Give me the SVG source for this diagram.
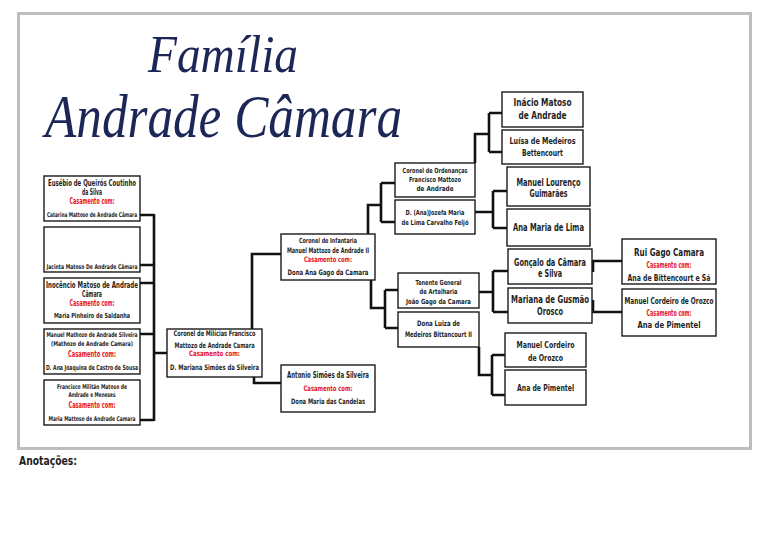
<svg xmlns="http://www.w3.org/2000/svg" width="768" height="543" viewBox="0 0 768 543">
<style>
.bx{fill:#fff;stroke:#1a1a1a;stroke-width:1.4}
.t{font-family:"DejaVu Sans Condensed","DejaVu Sans",sans-serif;font-weight:bold;fill:#1e1e1e;text-anchor:middle}
.r{font-family:"DejaVu Sans Condensed","DejaVu Sans",sans-serif;font-weight:bold;fill:#e8101e;text-anchor:middle}
.ttl{font-family:"Liberation Serif","DejaVu Serif",serif;font-style:italic;fill:#1c2757}
.cn{fill:none;stroke:#111;stroke-width:2.6;stroke-linejoin:miter}
</style>
<rect x="0" y="0" width="768" height="543" fill="#fff"/>
<rect x="18.5" y="13.5" width="732" height="435" fill="#fff" stroke="#bdbdbd" stroke-width="3"/>
<g id="title">
<text class="ttl" x="148" y="72" font-size="52" textLength="150" lengthAdjust="spacingAndGlyphs">Família</text>
<text class="ttl" x="45" y="137" font-size="62" textLength="357" lengthAdjust="spacingAndGlyphs">Andrade Câmara</text>
</g>
<text class="t" x="19" y="465" font-size="13" textLength="58" lengthAdjust="spacingAndGlyphs" style="text-anchor:start">Anotações:</text>
<g id="connectors">
<path class="cn" d="M140,215H154M140,265H154M140,283H154M140,334H154M140,420H154M154,214V421M154,353H167"/>
<path class="cn" d="M252,329V254H281"/>
<path class="cn" d="M254,377V383H281"/>
<path class="cn" d="M368,234V205H381M381,183V222M381,183H395M381,222H395"/>
<path class="cn" d="M371,280V308H385M385,290V328M385,290H398M385,328H398"/>
<path class="cn" d="M475,163V134H489M489,113V152M489,113H502M489,152H502"/>
<path class="cn" d="M475,212H493M493,191V228M493,191H507M493,228H507"/>
<path class="cn" d="M479,292H493M493,271V312M493,271H508M493,312H508"/>
<path class="cn" d="M479,347V375H492M492,355V395M492,355H505M492,395H505"/>
<path class="cn" d="M593,272V261H622"/>
<path class="cn" d="M593,300V312H622"/>
</g>
<g id="n-eusebio">
<rect class="bx" x="44" y="176" width="96" height="45"/>
<text class="t" x="92" y="186" font-size="8" textLength="88" lengthAdjust="spacingAndGlyphs">Eusébio de Queirós Coutinho</text>
<text class="t" x="92" y="195" font-size="8" textLength="20" lengthAdjust="spacingAndGlyphs">da Silva</text>
<text class="r" x="92" y="204" font-size="8" textLength="45" lengthAdjust="spacingAndGlyphs">Casamento com:</text>
<text class="t" x="92" y="216.5" font-size="6.5" textLength="90" lengthAdjust="spacingAndGlyphs">Catarina Mattoso de Andrade Câmara</text>
</g>
<g id="n-jacinta">
<rect class="bx" x="44" y="227" width="96" height="45"/>
<text class="t" x="92" y="268.5" font-size="6.5" textLength="91" lengthAdjust="spacingAndGlyphs">Jacinta Matoso De Andrade Câmara</text>
</g>
<g id="n-inocencio">
<rect class="bx" x="44" y="278" width="96" height="45"/>
<text class="t" x="92" y="288" font-size="8.5" textLength="92" lengthAdjust="spacingAndGlyphs">Inocêncio Matoso de Andrade</text>
<text class="t" x="92" y="297" font-size="8.5" textLength="20" lengthAdjust="spacingAndGlyphs">Câmara</text>
<text class="r" x="92" y="306" font-size="8" textLength="45" lengthAdjust="spacingAndGlyphs">Casamento com:</text>
<text class="t" x="92" y="317.5" font-size="7" textLength="76" lengthAdjust="spacingAndGlyphs">Maria Pinheiro de Saldanha</text>
</g>
<g id="n-manuel-mathozo">
<rect class="bx" x="44" y="329" width="96" height="45"/>
<text class="t" x="92" y="336.5" font-size="6.5" textLength="91" lengthAdjust="spacingAndGlyphs">Manuel Mathozo de Andrade Silveira</text>
<text class="t" x="92" y="345.5" font-size="6.5" textLength="82" lengthAdjust="spacingAndGlyphs">(Mathozo de Andrade Camara)</text>
<text class="r" x="92" y="356.5" font-size="8" textLength="48" lengthAdjust="spacingAndGlyphs">Casamento com:</text>
<text class="t" x="92" y="369.5" font-size="7" textLength="92" lengthAdjust="spacingAndGlyphs">D. Ana Joaquina de Castro de Sousa</text>
</g>
<g id="n-francisco-militao">
<rect class="bx" x="44" y="380" width="96" height="45"/>
<text class="t" x="92" y="388.5" font-size="6.5" textLength="70" lengthAdjust="spacingAndGlyphs">Francisco Militão Matoso de</text>
<text class="t" x="92" y="396.5" font-size="6.5" textLength="47" lengthAdjust="spacingAndGlyphs">Andrade e Meneses</text>
<text class="r" x="92" y="408" font-size="8" textLength="47" lengthAdjust="spacingAndGlyphs">Casamento com:</text>
<text class="t" x="92" y="420.5" font-size="6.5" textLength="87" lengthAdjust="spacingAndGlyphs">Maria Mattoso de Andrade Camara</text>
</g>
<g id="n-milicias">
<rect class="bx" x="167" y="329" width="95" height="48"/>
<text class="t" x="214.5" y="336" font-size="7.5" textLength="82" lengthAdjust="spacingAndGlyphs">Coronel de Milícias Francisco</text>
<text class="t" x="214.5" y="347.5" font-size="7.5" textLength="80" lengthAdjust="spacingAndGlyphs">Mattozo de Andrade Camara</text>
<text class="r" x="214.5" y="356" font-size="7.5" textLength="51" lengthAdjust="spacingAndGlyphs">Casamento com:</text>
<text class="t" x="214.5" y="369.5" font-size="7.5" textLength="89" lengthAdjust="spacingAndGlyphs">D. Mariana Simões da Silveira</text>
</g>
<g id="n-infantaria">
<rect class="bx" x="281" y="234" width="94" height="46"/>
<text class="t" x="328" y="242.5" font-size="7" textLength="58" lengthAdjust="spacingAndGlyphs">Coronel de Infantaria</text>
<text class="t" x="328" y="253" font-size="7.5" textLength="82" lengthAdjust="spacingAndGlyphs">Manuel Mattozo de Andrade II</text>
<text class="r" x="328" y="262" font-size="7.5" textLength="48" lengthAdjust="spacingAndGlyphs">Casamento com:</text>
<text class="t" x="328" y="275" font-size="7.5" textLength="81" lengthAdjust="spacingAndGlyphs">Dona Ana Gago da Camara</text>
</g>
<g id="n-antonio">
<rect class="bx" x="281" y="365" width="94" height="47"/>
<text class="t" x="328" y="378" font-size="8" textLength="82" lengthAdjust="spacingAndGlyphs">Antonio Simões da Silveira</text>
<text class="r" x="328" y="391" font-size="7.5" textLength="49" lengthAdjust="spacingAndGlyphs">Casamento com:</text>
<text class="t" x="328" y="404" font-size="7.5" textLength="74" lengthAdjust="spacingAndGlyphs">Dona Maria das Candelas</text>
</g>
<g id="n-ordenancas">
<rect class="bx" x="395" y="163" width="80" height="34"/>
<text class="t" x="435" y="172.5" font-size="7" textLength="65" lengthAdjust="spacingAndGlyphs">Coronel de Ordenanças</text>
<text class="t" x="435" y="181.5" font-size="7" textLength="52" lengthAdjust="spacingAndGlyphs">Francisco Mattozo</text>
<text class="t" x="435" y="190.5" font-size="7" textLength="37" lengthAdjust="spacingAndGlyphs">de Andrade</text>
</g>
<g id="n-jozefa">
<rect class="bx" x="395" y="200" width="80" height="34"/>
<text class="t" x="435" y="214.5" font-size="7" textLength="59" lengthAdjust="spacingAndGlyphs">D. (Ana)Jozefa Maria</text>
<text class="t" x="435" y="224.5" font-size="7" textLength="67" lengthAdjust="spacingAndGlyphs">de Lima Carvalho Feljó</text>
</g>
<g id="n-inacio">
<rect class="bx" x="502" y="92" width="81" height="35"/>
<text class="t" x="542.5" y="105.5" font-size="10.5" textLength="58" lengthAdjust="spacingAndGlyphs">Inácio Matoso</text>
<text class="t" x="542.5" y="118.5" font-size="10.5" textLength="48" lengthAdjust="spacingAndGlyphs">de Andrade</text>
</g>
<g id="n-luisa">
<rect class="bx" x="502" y="130" width="81" height="34"/>
<text class="t" x="542.5" y="144" font-size="9" textLength="66" lengthAdjust="spacingAndGlyphs">Luísa de Medeiros</text>
<text class="t" x="542.5" y="156" font-size="9" textLength="41" lengthAdjust="spacingAndGlyphs">Bettencourt</text>
</g>
<g id="n-lourenco">
<rect class="bx" x="507" y="167" width="83" height="39"/>
<text class="t" x="548.5" y="185.5" font-size="10.5" textLength="64" lengthAdjust="spacingAndGlyphs">Manuel Lourenço</text>
<text class="t" x="548.5" y="196.5" font-size="10.5" textLength="38" lengthAdjust="spacingAndGlyphs">Guimarães</text>
</g>
<g id="n-anamaria">
<rect class="bx" x="507" y="209" width="83" height="37"/>
<text class="t" x="548.5" y="230.5" font-size="10.5" textLength="71" lengthAdjust="spacingAndGlyphs">Ana Maria de Lima</text>
</g>
<g id="n-tenente">
<rect class="bx" x="398" y="273" width="81" height="35"/>
<text class="t" x="438.5" y="284.5" font-size="7" textLength="46" lengthAdjust="spacingAndGlyphs">Tenente General</text>
<text class="t" x="438.5" y="293.5" font-size="7" textLength="38" lengthAdjust="spacingAndGlyphs">de Artelharia</text>
<text class="t" x="438.5" y="303.5" font-size="7" textLength="65" lengthAdjust="spacingAndGlyphs">João Gago da Camara</text>
</g>
<g id="n-luiza">
<rect class="bx" x="398" y="312" width="81" height="35"/>
<text class="t" x="438.5" y="325.5" font-size="7.5" textLength="43" lengthAdjust="spacingAndGlyphs">Dona Luiza de</text>
<text class="t" x="438.5" y="336.5" font-size="7.5" textLength="67" lengthAdjust="spacingAndGlyphs">Medeiros Bittancourt II</text>
</g>
<g id="n-goncalo">
<rect class="bx" x="508" y="249" width="84" height="35"/>
<text class="t" x="550" y="265.5" font-size="10.5" textLength="72" lengthAdjust="spacingAndGlyphs">Gonçalo da Câmara</text>
<text class="t" x="550" y="276.5" font-size="10.5" textLength="24" lengthAdjust="spacingAndGlyphs">e Silva</text>
</g>
<g id="n-mariana">
<rect class="bx" x="508" y="288" width="84" height="35"/>
<text class="t" x="550" y="302.5" font-size="10.5" textLength="78" lengthAdjust="spacingAndGlyphs">Mariana de Gusmão</text>
<text class="t" x="550" y="314.5" font-size="10.5" textLength="26" lengthAdjust="spacingAndGlyphs">Orosco</text>
</g>
<g id="n-cordeiro">
<rect class="bx" x="505" y="333" width="81" height="34"/>
<text class="t" x="545.5" y="347.5" font-size="9.5" textLength="58" lengthAdjust="spacingAndGlyphs">Manuel Cordeiro</text>
<text class="t" x="545.5" y="360.5" font-size="9.5" textLength="35" lengthAdjust="spacingAndGlyphs">de Orozco</text>
</g>
<g id="n-pimentel">
<rect class="bx" x="505" y="370" width="81" height="35"/>
<text class="t" x="545.5" y="390.5" font-size="9.5" textLength="57" lengthAdjust="spacingAndGlyphs">Ana de Pimentel</text>
</g>
<g id="n-rui">
<rect class="bx" x="622" y="239" width="94" height="45"/>
<text class="t" x="669" y="256" font-size="11" textLength="70" lengthAdjust="spacingAndGlyphs">Rui Gago Camara</text>
<text class="r" x="669" y="268" font-size="8" textLength="45" lengthAdjust="spacingAndGlyphs">Casamento com:</text>
<text class="t" x="669" y="280.5" font-size="8.5" textLength="83" lengthAdjust="spacingAndGlyphs">Ana de Bittencourt e Sá</text>
</g>
<g id="n-orozco">
<rect class="bx" x="622" y="289" width="94" height="47"/>
<text class="t" x="669" y="304" font-size="8" textLength="89" lengthAdjust="spacingAndGlyphs">Manuel Cordeiro de Orozco</text>
<text class="r" x="669" y="316" font-size="8" textLength="45" lengthAdjust="spacingAndGlyphs">Casamento com:</text>
<text class="t" x="669" y="327.5" font-size="9" textLength="63" lengthAdjust="spacingAndGlyphs">Ana de Pimentel</text>
</g>
</svg>
